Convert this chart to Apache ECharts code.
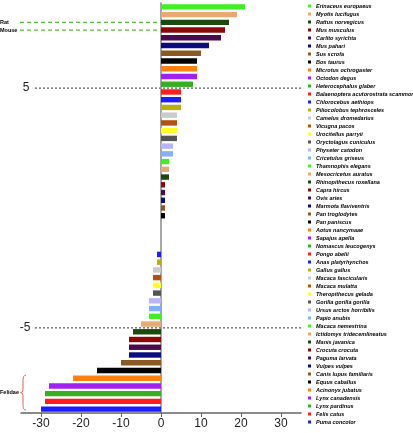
<!DOCTYPE html>
<html>
<head>
    <meta charset="utf-8">
    <title>ECharts</title>
    <script src="https://cdn.jsdelivr.net/npm/echarts@6/dist/echarts.min.js"></script>
    <style>
        html, body { margin: 0; padding: 0; background: #fff; }
    </style>
</head>
<body>
    <div id="main" style="width: 413px;height:433px;"></div>
    <script type="text/javascript">
        // species, top to bottom
        var species = [
            'Erinaceus europaeus', 'Myotis lucifugus', 'Rattus norvegicus', 'Mus musculus',
            'Carlito syrichta', 'Mus pahari', 'Sus scrofa', 'Bos taurus', 'Microtus ochrogaster',
            'Octodon degus', 'Heterocephalus glaber', 'Balaenoptera acutorostrata scammoni',
            'Chlorocebus aethiops', 'Piliocolobus tephrosceles', 'Camelus dromedarius',
            'Vicugna pacos', 'Urocitellus parryii', 'Oryctolagus cuniculus', 'Physeter catodon',
            'Cricetulus griseus', 'Thamnophis elegans', 'Mesocricetus auratus',
            'Rhinopithecus roxellana', 'Capra hircus', 'Ovis aries', 'Marmota flaviventris',
            'Pan troglodytes', 'Pan paniscus', 'Aotus nancymaae', 'Sapajus apella',
            'Nomascus leucogenys', 'Pongo abelii', 'Anas platyrhynchos', 'Gallus gallus',
            'Macaca fascicularis', 'Macaca mulatta', 'Theropithecus gelada',
            'Gorilla gorilla gorilla', 'Ursus arctos horribilis', 'Papio anubis',
            'Macaca nemestrina', 'Ictidomys tridecemlineatus', 'Manis javanica',
            'Crocuta crocuta', 'Paguma larvata', 'Vulpes vulpes', 'Canis lupus familiaris',
            'Equus caballus', 'Acinonyx jubatus', 'Lynx canadensis', 'Lynx pardinus',
            'Felis catus', 'Puma concolor'
        ];
        var values = [
            21, 19, 17, 16, 15, 12, 10, 9, 9, 9, 8, 5, 5, 5, 4, 4, 4, 4, 3, 3, 2, 2, 2,
            1, 1, 1, 1, 1, 0, 0, 0, 0, -1, -1, -2, -2, -2, -2, -3, -3, -3, -5, -7,
            -8, -8, -8, -10, -16, -22, -28, -29, -29, -30
        ];
        var palette = [
            '#3ef020', '#e8aa72', '#1c4a0c', '#8a0808', '#4a0a4e', '#0c0c7c', '#8a5a22',
            '#000000', '#ff8012', '#a022ee', '#38ae22', '#ff1c1c', '#1c1cff', '#b8ae14',
            '#cccccc', '#b2520e', '#ffff22', '#555555', '#b8b4ff', '#82b2ff'
        ];
        var xTicks = [-30, -20, -10, 0, 10, 20, 30];

        var myChart = echarts.init(document.getElementById('main'));

        var series = species.map(function (name, i) {
            return {
                name: name,
                type: 'bar',
                stack: 'all',
                barWidth: '70%',
                itemStyle: { color: palette[i % palette.length] },
                data: species.map(function (s, j) { return j === i ? values[i] : '-'; })
            };
        });

        var option = {
            animation: false,
            grid: { left: 21, right: 112, top: 3, bottom: 20 },
            legend: {
                data: species,
                orient: 'vertical',
                left: 308,
                top: 3,
                padding: 0,
                itemWidth: 3,
                itemHeight: 3,
                itemGap: 2,
                icon: 'rect',
                selectedMode: false,
                textStyle: {
                    fontSize: 5.5,
                    lineHeight: 6,
                    fontStyle: 'italic',
                    fontWeight: 'bold',
                    fontFamily: 'Liberation Sans',
                    color: '#000'
                }
            },
            xAxis: {
                type: 'value',
                min: -35,
                max: 35,
                splitLine: { show: false },
                axisLine: { show: true, lineStyle: { color: '#666', width: 1.5 } },
                axisTick: { show: true, length: 4, customValues: xTicks, lineStyle: { color: '#666' } },
                axisLabel: {
                    customValues: xTicks,
                    color: '#222',
                    fontSize: 12,
                    margin: 5,
                    fontFamily: 'Liberation Sans'
                }
            },
            yAxis: {
                type: 'category',
                data: species,
                inverse: true,
                axisLine: { show: true, onZero: true, lineStyle: { color: '#888', width: 1.5 } },
                axisTick: { show: false },
                axisLabel: { show: false }
            },
            series: series
        };
        myChart.setOption(option);

        // annotations placed from the axes
        function yOf(name) {
            return myChart.convertToPixel({ yAxisIndex: 0 }, name);
        }
        function between(a, b) {
            return (yOf(a) + yOf(b)) / 2;
        }
        var x0 = myChart.convertToPixel({ xAxisIndex: 0 }, 0);
        var xRight = myChart.convertToPixel({ xAxisIndex: 0 }, 35);

        var y5 = between('Heterocephalus glaber', 'Balaenoptera acutorostrata scammoni');
        var yM5 = between('Ictidomys tridecemlineatus', 'Manis javanica');
        var yRat = yOf('Rattus norvegicus');
        var yMouse = yOf('Mus musculus');
        var fTop = yOf('Acinonyx jubatus') - 3;
        var fBot = yOf('Puma concolor') + 1;
        var fMid = (fTop + fBot) / 2;

        var smallText = { fontSize: 5.5, fontWeight: 'bold', fontFamily: 'Liberation Sans', fill: '#000' };
        var dashBlack = { stroke: '#333', lineWidth: 1, lineDash: [2, 2] };
        var dashGreen = { stroke: '#5cb83c', lineWidth: 1.2, lineDash: [4, 3] };
        var brace = { stroke: '#e06060', lineWidth: 1, fill: null };

        myChart.setOption({
            graphic: [
                { type: 'line', shape: { x1: 35, y1: y5, x2: xRight, y2: y5 }, style: dashBlack },
                { type: 'text', x: 26, y: y5, style: { text: '5', fontSize: 12, fontFamily: 'Liberation Sans', fill: '#222', align: 'center', verticalAlign: 'middle' } },
                { type: 'line', shape: { x1: 35, y1: yM5, x2: xRight, y2: yM5 }, style: dashBlack },
                { type: 'text', x: 25, y: yM5, style: { text: '-5', fontSize: 12, fontFamily: 'Liberation Sans', fill: '#222', align: 'center', verticalAlign: 'middle' } },
                { type: 'line', shape: { x1: 20, y1: yRat, x2: x0, y2: yRat }, style: dashGreen },
                { type: 'text', x: 0, y: yRat, style: Object.assign({ text: 'Rat', verticalAlign: 'middle' }, smallText) },
                { type: 'line', shape: { x1: 20, y1: yMouse, x2: x0, y2: yMouse }, style: dashGreen },
                { type: 'text', x: 0, y: yMouse, style: Object.assign({ text: 'Mouse', verticalAlign: 'middle' }, smallText) },
                { type: 'text', x: 0, y: fMid, style: Object.assign({ text: 'Felidae', verticalAlign: 'middle' }, smallText) },
                { type: 'bezierCurve', shape: { x1: 26, y1: fTop, cpx1: 23, cpy1: fTop, x2: 23, y2: fTop + 5 }, style: brace },
                { type: 'line', shape: { x1: 23, y1: fTop + 5, x2: 23, y2: fMid - 3 }, style: brace },
                { type: 'bezierCurve', shape: { x1: 23, y1: fMid - 3, cpx1: 23, cpy1: fMid, x2: 20.5, y2: fMid }, style: brace },
                { type: 'bezierCurve', shape: { x1: 20.5, y1: fMid, cpx1: 23, cpy1: fMid, x2: 23, y2: fMid + 3 }, style: brace },
                { type: 'line', shape: { x1: 23, y1: fMid + 3, x2: 23, y2: fBot - 5 }, style: brace },
                { type: 'bezierCurve', shape: { x1: 23, y1: fBot - 5, cpx1: 23, cpy1: fBot, x2: 26, y2: fBot }, style: brace }
            ]
        });
    </script>
</body>
</html>
